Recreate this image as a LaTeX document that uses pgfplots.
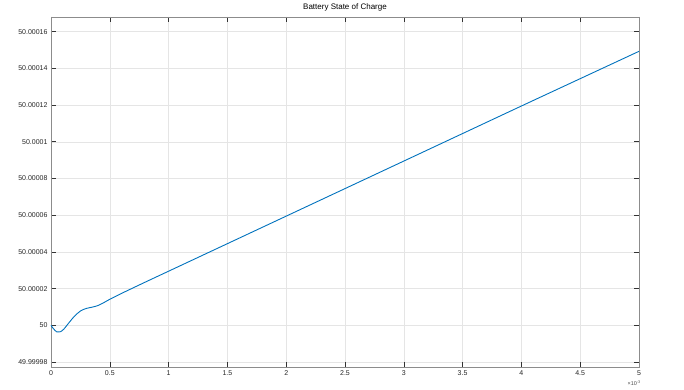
\documentclass[border=0pt]{standalone}
\usepackage{fontspec}
\setmainfont{Liberation Sans}
\usepackage{pgfplots}
\pgfplotsset{compat=1.18}
\definecolor{mblue}{RGB}{0,114,189}
\begin{document}
\begin{tikzpicture}[x=1pt,y=1pt]
\begin{axis}[
  scale only axis,
  width=588pt, height=350pt,
  xmin=0, xmax=5,
  ymin=-2.27, ymax=16.8,
  xtick={0,0.5,...,5},
  xticklabels={0,0.5,1,1.5,2,2.5,3,3.5,4,4.5,5},
  ytick={-2,0,2,4,6,8,10,12,14,16},
  yticklabels={49.99998,50,50.00002,50.00004,50.00006,50.00008,50.0001,50.00012,50.00014,50.00016},
  tick align=inside,
  major tick length=5pt,
  tick style={black!80, line width=0.6pt},
  axis line style={black!45, line width=0.8pt},
  grid=major,
  major grid style={black!10, line width=0.5pt},
  tick label style={font=\fontsize{7}{8}\selectfont, text=black!85},
  /pgf/number format/assume math mode=true,
  title={Battery State of Charge},
  title style={font=\fontsize{8}{9}\selectfont, yshift=-4pt},
  clip=false,
]
\addplot[mblue, line width=0.9pt, smooth, tension=0.5] coordinates {
(0,0) (0.02,-0.18) (0.05,-0.36) (0.08,-0.35) (0.11,-0.2) (0.15,0.12) (0.2,0.5) (0.25,0.78) (0.3,0.92) (0.35,0.99) (0.4,1.08) (0.45,1.24) (0.5,1.42) (0.6,1.74) (0.8,2.35) (1,2.95) (1.5,4.45) (2,5.95) (2.5,7.45) (3,8.95) (3.5,10.45) (4,11.95) (4.5,13.44) (5,14.93)
};
\node[anchor=north east, font=\fontsize{5.5}{6}\selectfont, text=black!70, inner sep=1pt] at (rel axis cs:1,0) [yshift=-13pt, xshift=3pt] {×10\textsuperscript{-3}};
\end{axis}
\path (-51pt,-23pt) rectangle (633pt,367pt);
\end{tikzpicture}
\end{document}
